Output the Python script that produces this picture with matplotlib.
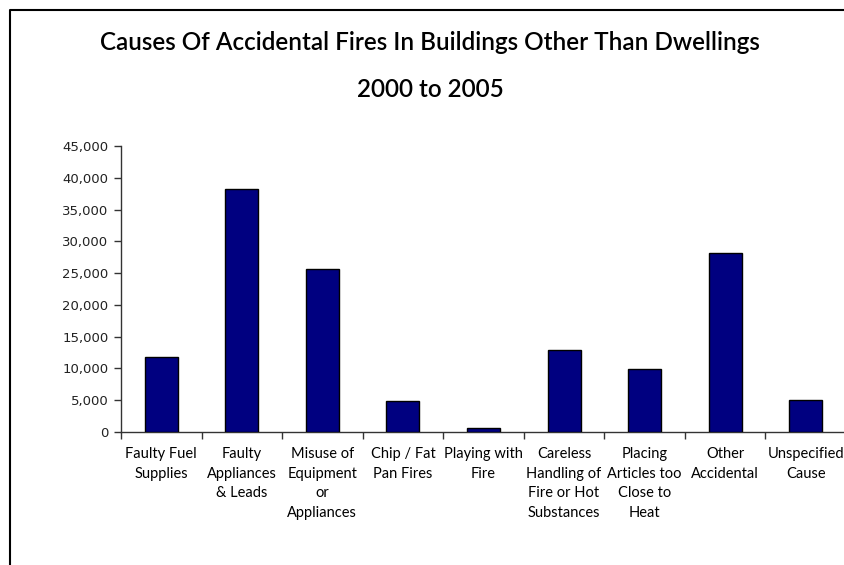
import matplotlib
matplotlib.use("Agg")
import matplotlib.pyplot as plt
from matplotlib.lines import Line2D
import numpy as np

categories = ["Faulty Fuel\nSupplies", "Faulty\nAppliances\n& Leads", "Misuse of\nEquipment\nor\nAppliances",
              "Chip / Fat\nPan Fires", "Playing with\nFire", "Careless\nHandling of\nFire or Hot\nSubstances",
              "Placing\nArticles too\nClose to\nHeat", "Other\nAccidental", "Unspecified\nCause"]
values = [11800, 38200, 25600, 4900, 700, 12900, 9900, 28200, 5000]
yticks = [0, 5000, 10000, 15000, 20000, 25000, 30000, 35000, 40000, 45000]

W, H = 845, 565
fig = plt.figure(figsize=(W / 100, H / 100), dpi=100)
fig.patch.set_facecolor("white")

ax = fig.add_axes([121 / W, 1 - 432 / H, (846 - 121) / W, (432 - 146) / H])
x = np.arange(len(values))
ax.bar(x, values, width=0.41, color="#000080", edgecolor="black", linewidth=1.0, zorder=3)
ax.set_xlim(-0.5, len(values) - 0.5)
ax.set_ylim(0, 45000)

ax.set_yticks(yticks)
ax.set_yticklabels([f"{v:,}" for v in yticks], fontsize=9.5, family="DejaVu Sans", color="#222222")
ax.set_xticks(np.arange(len(values) + 1) - 0.5)
ax.set_xticklabels([])
ax.set_xticks(x, minor=True)
ax.set_xticklabels(categories, minor=True, fontsize=10.5, family=["Lato", "DejaVu Sans"],
                   linespacing=1.5, va="top")
ax.tick_params(axis="x", which="minor", length=0, pad=11)
ax.tick_params(axis="x", which="major", length=5, direction="out", width=1, color="#333333")
ax.tick_params(axis="y", length=5, direction="out", width=1, color="#333333", pad=4)

for s in ["top", "right"]:
    ax.spines[s].set_visible(False)
for s in ["left", "bottom"]:
    ax.spines[s].set_color("#333333")
    ax.spines[s].set_linewidth(1)

title_font = ["Lato", "DejaVu Sans"]
fig.text(430 / W, 1 - 43 / H, "Causes Of Accidental Fires In Buildings Other Than Dwellings",
         ha="center", va="center", fontsize=17.5, fontweight="semibold", family=title_font)
fig.text(430 / W, 1 - 89 / H, "2000 to 2005", ha="center", va="center", fontsize=17.5,
         fontweight="semibold", family=title_font)

fig.add_artist(Line2D([10 / W, 10 / W, 1.0], [0, 1 - 10 / H, 1 - 10 / H],
                      transform=fig.transFigure, color="black", linewidth=1.5))

fig.savefig("out.png", dpi=100, facecolor="white")
